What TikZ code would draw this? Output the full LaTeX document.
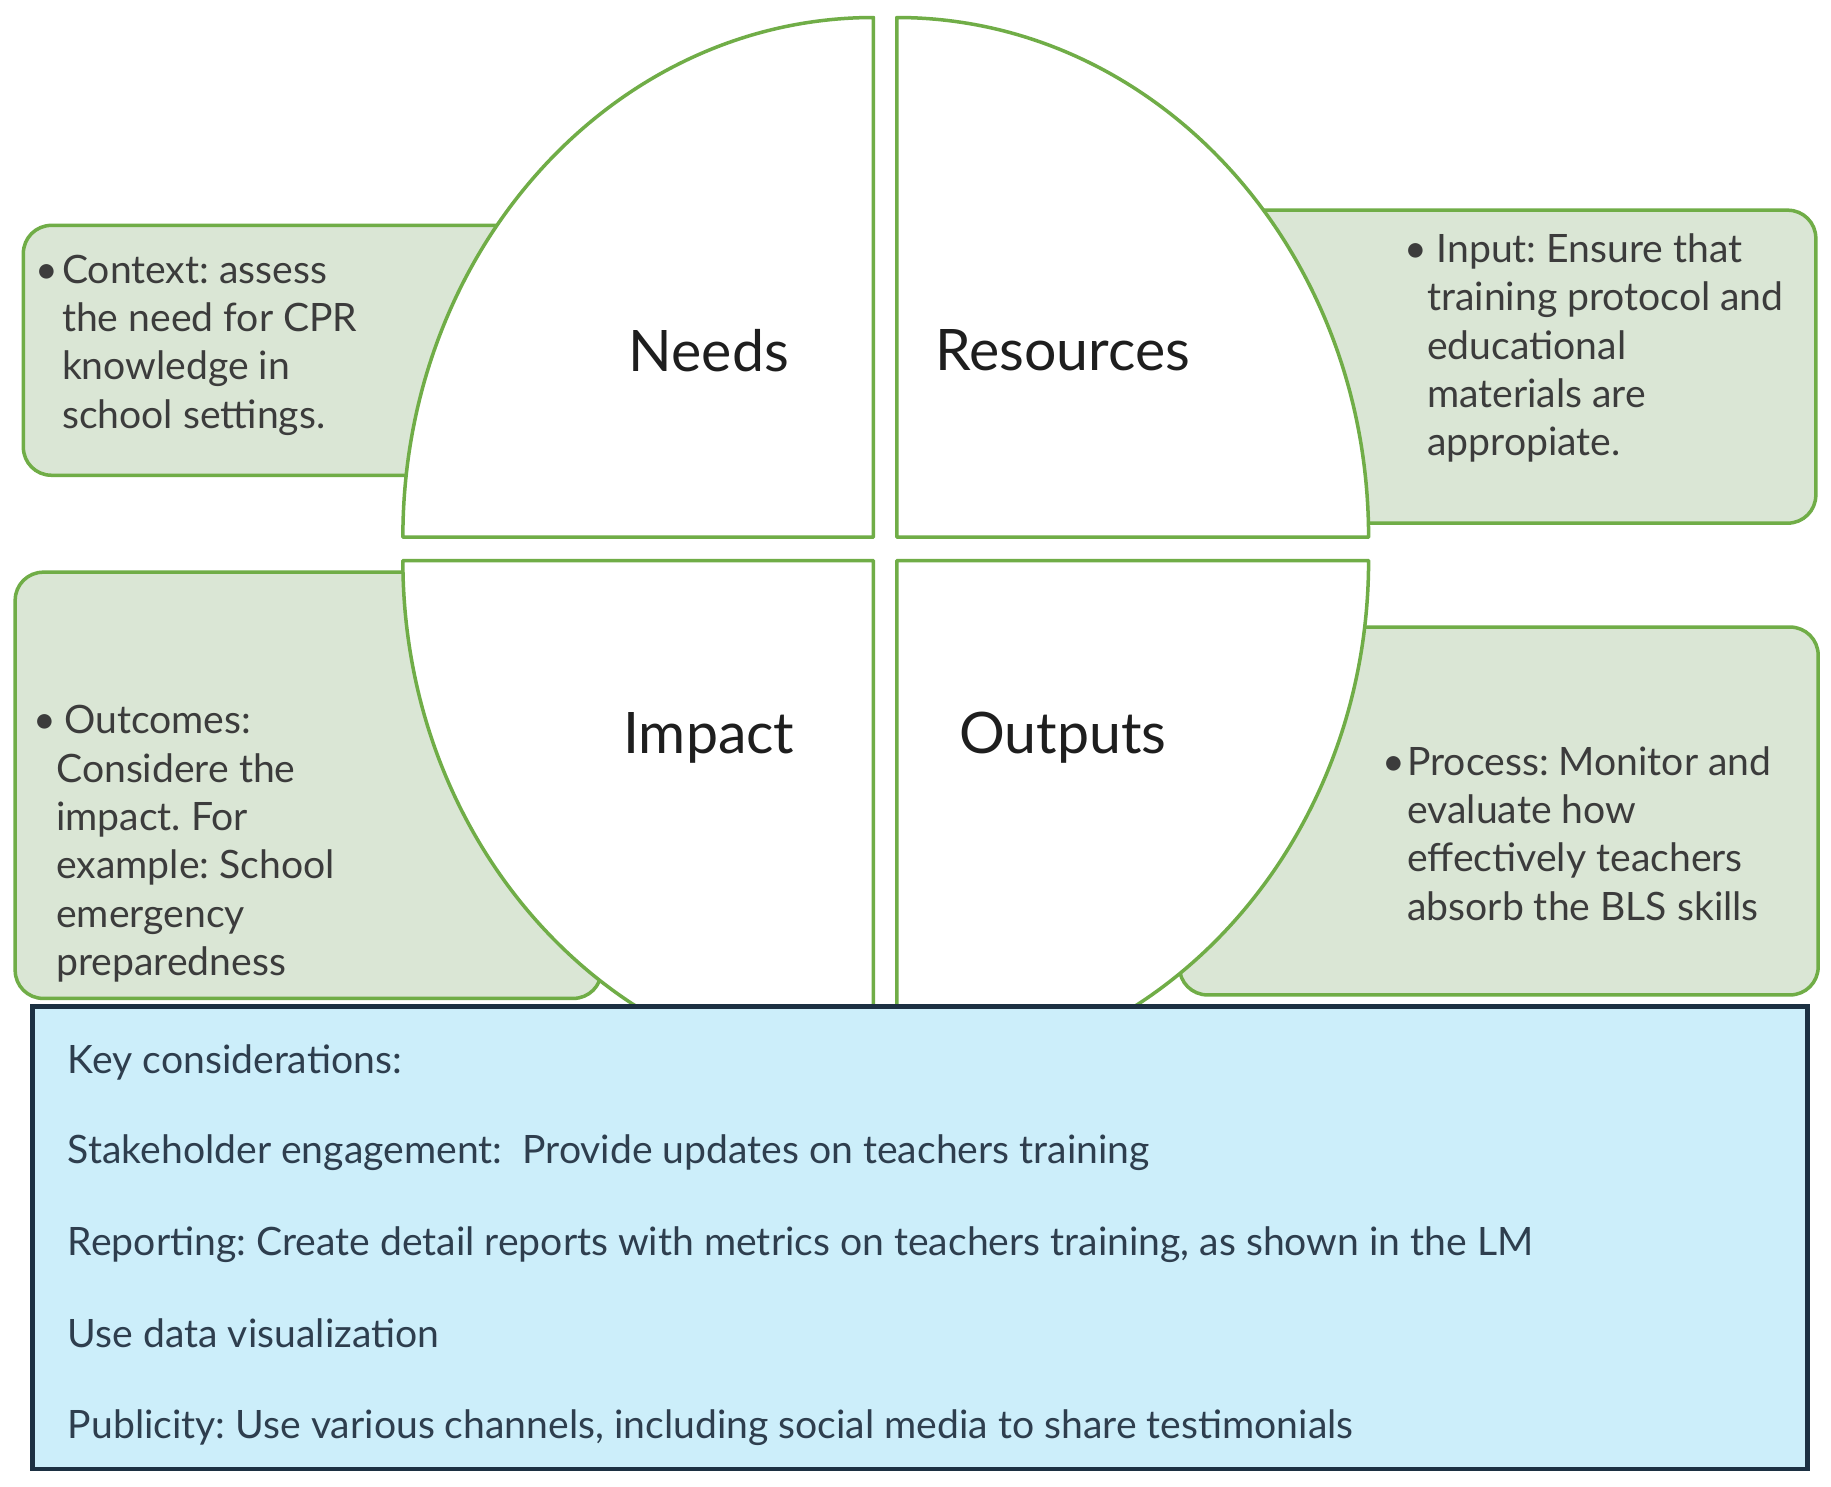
\documentclass[tikz,border=0pt]{standalone}
\usepackage{fontspec}
\setmainfont{Lato}
\frenchspacing
\definecolor{qgreen}{RGB}{112,173,71}
\definecolor{sidefill}{RGB}{218,230,213}
\definecolor{keyfill}{RGB}{204,238,250}
\definecolor{keyborder}{RGB}{28,48,66}
\definecolor{sidetext}{RGB}{60,60,60}
\definecolor{keytext}{RGB}{46,62,78}
\definecolor{labeltext}{RGB}{30,30,30}
\tikzset{
  quad/.style={draw=qgreen, line width=3pt, fill=white, line join=round},
  sidebox/.style={draw=qgreen, line width=3pt, fill=sidefill, rounded corners=24pt},
  lbl/.style={font=\fontsize{49}{52}\selectfont, text=labeltext, inner sep=0pt},
  sidetxt/.style={font=\fontsize{33.5}{41.4}\selectfont, text=sidetext, align=left, anchor=north west, inner sep=0pt},
  keytxt/.style={font=\fontsize{33.5}{38}\selectfont, text=keytext, anchor=base west, inner sep=0pt},
}
\begin{document}
\begin{tikzpicture}[x=1pt,y=-1pt]
\useasboundingbox[fill=white] (0,0) rectangle (1568,1273);
% side boxes (behind the circle)
\draw[sidebox] (20,193) rectangle (640,407);
\draw[sidebox] (880,180) rectangle (1555,448);
\draw[sidebox] (13,490) rectangle (515,855);
\draw[sidebox] (1010,537) rectangle (1557,852);
% quadrants
\draw[quad] (748,460) -- (345,460) arc[start angle=180, end angle=90, x radius=403pt, y radius=445pt] -- cycle;
\draw[quad] (768,460) -- (768,15) arc[start angle=90, end angle=0, x radius=404pt, y radius=445pt] -- cycle;
\draw[quad] (748,480) -- (345,480) arc[start angle=180, end angle=270, x radius=403pt, y radius=442pt] -- cycle;
\draw[quad] (768,480) -- (1172,480) arc[start angle=0, end angle=-90, x radius=404pt, y radius=442pt] -- cycle;
% labels
\node[lbl] (needs) at (607,300) {Needs};
\node[lbl] (resources) at (910,300) {Resources};
\node[lbl] (impact) at (607,632) {Impact};
\node[lbl] (outputs) at (910,632) {Outputs};
% side texts
\node[sidetxt] (context) at (53,218) {\llap{•\hspace{3pt}}Context: assess\\the need for CPR\\knowledge in\\school settings.};
\node[sidetxt] (input) at (1222,200) {\llap{•}\hspace{8pt}Input: Ensure that\\training protocol and\\educational\\materials are\\appropiate.};
\node[sidetxt] (outcomes) at (48,604) {\llap{•}\hspace{7pt}Outcomes:\\Considere the\\impact. For\\example: School\\emergency\\preparedness};
\node[sidetxt] (process) at (1205,639) {\llap{•\hspace{2pt}}Process: Monitor and\\evaluate how\\effectively teachers\\absorb the BLS skills};
% key considerations box
\draw[draw=keyborder, line width=4pt, fill=keyfill] (28,862) rectangle (1548,1258);
\node[keytxt] (k0) at (58,919) {Key considerations:};
\node[keytxt] (k1) at (58,996) {Stakeholder engagement:\ \ Provide updates on teachers training};
\node[keytxt] (k2) at (58,1075) {Reporting: Create detail reports with metrics on teachers training, as shown in the LM};
\node[keytxt] (k3) at (58,1154) {Use data visualization};
\node[keytxt] (k4) at (58,1232) {Publicity: Use various channels, including social media to share testimonials};
\end{tikzpicture}
\end{document}
